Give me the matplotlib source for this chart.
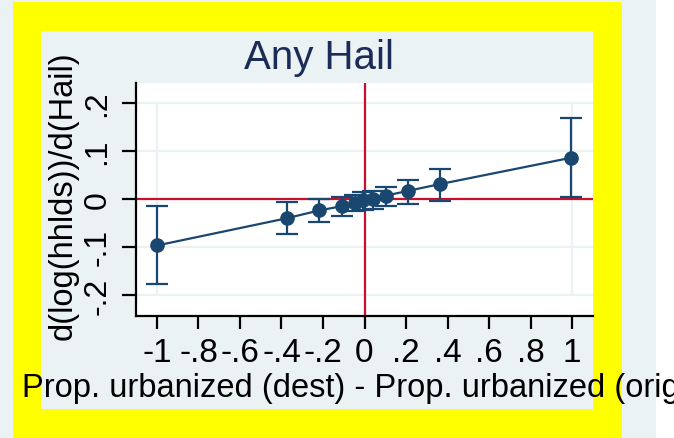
import matplotlib.pyplot as plt
from matplotlib.patches import Rectangle

# difference in urbanization share vs. estimated effect, with 95% CI
urb_diff = [-1.0, -0.372, -0.219, -0.108, -0.046, -0.006, 0.04, 0.104, 0.211, 0.364, 0.997]
effect = [-0.097, -0.040, -0.024, -0.015, -0.008, -0.003, 0.000, 0.007, 0.017, 0.031, 0.086]
ci_low = [-0.178, -0.074, -0.049, -0.035, -0.026, -0.023, -0.021, -0.015, -0.010, -0.004, 0.004]
ci_high = [-0.015, -0.006, -0.001, 0.004, 0.008, 0.014, 0.017, 0.025, 0.040, 0.063, 0.169]

xticks = [-1, -0.8, -0.6, -0.4, -0.2, 0, 0.2, 0.4, 0.6, 0.8, 1]
xticklabels = ['-1', '-.8', '-.6', '-.4', '-.2', '0', '.2', '.4', '.6', '.8', '1']
yticks = [-0.2, -0.1, 0, 0.1, 0.2]
yticklabels = ['-.2', '-.1', '0', '.1', '.2']

navy = '#1a476f'
red = '#c8102e'
bg = '#eaf2f3'

plt.rcParams['font.family'] = ['Liberation Sans', 'DejaVu Sans']

W, H = 674, 439
fig = plt.figure(figsize=(W / 100, H / 100), dpi=100)
fig.patch.set_facecolor(bg)

def px_rect(x0, y0, x1, y1, color):
    fig.patches.append(Rectangle((x0 / W, 1 - y1 / H), (x1 - x0) / W, (y1 - y0) / H,
                                 transform=fig.transFigure, facecolor=color,
                                 edgecolor='none', zorder=-10))

px_rect(656, 0, 674, 439, 'white')
px_rect(13, 3, 622, 439, '#ffff00')
px_rect(41, 32, 593, 410, bg)

ax = fig.add_axes([136 / W, 1 - 317 / H, (593 - 136) / W, (317 - 84) / H])
ax.set_facecolor('white')
ax.set_xlim(-1.101, 1.101)
ax.set_ylim(-0.244, 0.2417)

# grid
for yv in yticks:
    ax.axhline(yv, color=bg, lw=1.5, zorder=0)
for xv in [-1, 1]:
    ax.plot([xv, xv], [-0.2, 0.2], color=bg, lw=1.5, zorder=0)

ax.axhline(0, color=red, lw=1.6, zorder=1)
ax.axvline(0, color=red, lw=1.6, zorder=1)

yerr = [[e - l for e, l in zip(effect, ci_low)], [h - e for e, h in zip(effect, ci_high)]]
ax.errorbar(urb_diff, effect, yerr=yerr, fmt='none', ecolor=navy, elinewidth=1.6,
            capsize=8, capthick=1.6, zorder=2)
ax.plot(urb_diff, effect, color=navy, lw=1.6, marker='o', markersize=9.5, zorder=3)

for s in ['top', 'right']:
    ax.spines[s].set_visible(False)
for s in ['left', 'bottom']:
    ax.spines[s].set_linewidth(1.6)

ax.set_xticks(xticks)
ax.set_xticklabels(xticklabels)
ax.set_yticks(yticks)
ax.set_yticklabels(yticklabels, rotation=90, va='center')
ax.tick_params(axis='x', length=9, width=1.6, pad=6, labelsize=24)
ax.tick_params(axis='y', length=10, width=1.6, pad=7, labelsize=23)

fig.text(319 / W, 1 - 58 / H, 'Any Hail', ha='center', va='center', fontsize=29, color='#1c2c58')
fig.text(22 / W, 1 - 397 / H, 'Prop. urbanized (dest) - Prop. urbanized (origin)',
         ha='left', va='baseline', fontsize=23.5)
fig.text(63 / W, 1 - 196 / H, 'd(log(hhlds))/d(Hail)', rotation=90,
         ha='center', va='center', fontsize=23.5)

fig.savefig('out.png', dpi=100, facecolor=fig.get_facecolor())
